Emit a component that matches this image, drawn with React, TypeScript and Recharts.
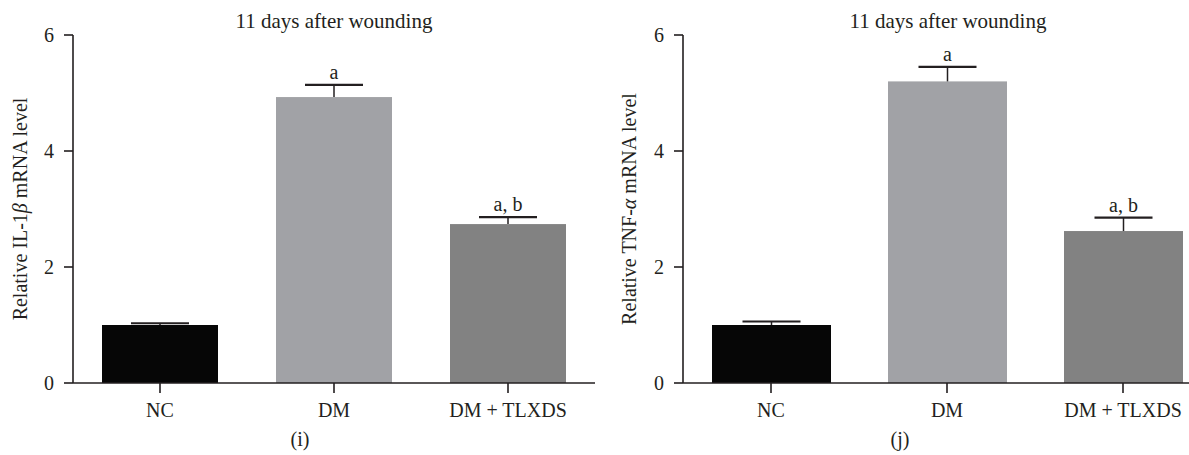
import React from 'react';
import { BarChart, Bar, XAxis, YAxis, Customized } from 'recharts';

// group names and significance letters shared by both panels
const categories = ['NC', 'DM', 'DM + TLXDS'];
const sigLetters = ['', 'a', 'a, b'];

// panel (i): IL-1beta
const il1bMeans = [1.0, 4.93, 2.74];
const il1bErrors = [0.03, 0.21, 0.12];

// panel (j): TNF-alpha
const tnfMeans = [1.0, 5.2, 2.62];
const tnfErrors = [0.06, 0.25, 0.23];

const yTicks = [0, 2, 4, 6];
const barColors = ['#060606', '#a1a2a6', '#828282'];

const FONT = '"Liberation Serif", "DejaVu Serif", serif';
const INK = '#231f20';

const buildRows = (means: number[], errors: number[]) =>
    categories.map((name, i) => ({ name, mean: means[i], err: errors[i], letter: sigLetters[i] }));

// bar + one-sided (upper) error whisker + letter, scaled off the bar's own pixel height
const BarWithError = (props: any) => {
    const { x, y, width, height, index, payload } = props;
    const pxPerUnit = height / payload.mean;
    const errTop = y - payload.err * pxPerUnit;
    const cx = x + width / 2;
    return (
        <g>
            <rect x={x} y={y} width={width} height={height} fill={barColors[index]} />
            <line x1={cx} x2={cx} y1={y} y2={errTop} stroke={INK} strokeWidth={1.5} />
            <line x1={cx - 29} x2={cx + 29} y1={errTop} y2={errTop} stroke={INK} strokeWidth={2.2} />
            {payload.letter ? (
                <text x={cx} y={errTop - 6} textAnchor="middle" fontSize={20} fill={INK} fontFamily={FONT}>
                    {payload.letter}
                </text>
            ) : null}
        </g>
    );
};

interface PanelProps {
    rows: { name: string; mean: number; err: number; letter: string }[];
    width: number;
    marginLeft: number;
    barSize: number;
    gene: string;
    greek: string;
    labelX: number;
    titleX: number;
    tag: string;
    tagX: number;
}

const Panel: React.FC<PanelProps> = ({ rows, width, marginLeft, barSize, gene, greek, labelX, titleX, tag, tagX }) => (
    <BarChart
        width={width}
        height={455}
        data={rows}
        margin={{ top: 35, right: 0, bottom: 32, left: marginLeft }}
    >
        <XAxis
            dataKey="name"
            height={40}
            axisLine={{ stroke: INK, strokeWidth: 1.6 }}
            tickLine={{ stroke: INK, strokeWidth: 1.6 }}
            tickSize={10}
            tickMargin={10}
            tick={{ fill: INK, fontSize: 20, fontFamily: FONT }}
        />
        <YAxis
            width={60}
            domain={[0, 6]}
            ticks={yTicks}
            axisLine={{ stroke: INK, strokeWidth: 1.6 }}
            tickLine={{ stroke: INK, strokeWidth: 1.6 }}
            tickSize={9}
            tickMargin={10}
            tick={{ fill: INK, fontSize: 20, fontFamily: FONT }}
        />
        <Bar dataKey="mean" barSize={barSize} shape={BarWithError} isAnimationActive={false} />
        <Customized
            component={() => (
                <g fill={INK} fontFamily={FONT} fontSize={20}>
                    <text x={titleX} y={28} textAnchor="middle" fontSize={21}>11 days after wounding</text>
                    <text x={labelX} y={209} textAnchor="middle" transform={`rotate(-90, ${labelX}, 209)`}>
                        Relative {gene}
                        <tspan fontStyle="italic">{greek}</tspan> mRNA level
                    </text>
                    <text x={tagX} y={446} textAnchor="middle">{tag}</text>
                </g>
            )}
        />
    </BarChart>
);

export default function App() {
    return (
        <div
            style={{
                position: 'absolute',
                left: 0,
                top: 0,
                width: 1189,
                height: 455,
                overflow: 'hidden',
                background: '#fff',
                fontFamily: FONT,
            }}
        >
            <div style={{ position: 'absolute', left: 0, top: 0 }}>
                <Panel
                    rows={buildRows(il1bMeans, il1bErrors)}
                    width={595}
                    marginLeft={13}
                    barSize={116}
                    gene="IL-1"
                    greek="β"
                    labelX={27}
                    titleX={334}
                    tag="(i)"
                    tagX={300}
                />
            </div>
            <div style={{ position: 'absolute', left: 600, top: 0 }}>
                <Panel
                    rows={buildRows(tnfMeans, tnfErrors)}
                    width={611}
                    marginLeft={23}
                    barSize={119}
                    gene="TNF-"
                    greek="α"
                    labelX={36}
                    titleX={348}
                    tag="(j)"
                    tagX={300}
                />
            </div>
        </div>
    );
}
